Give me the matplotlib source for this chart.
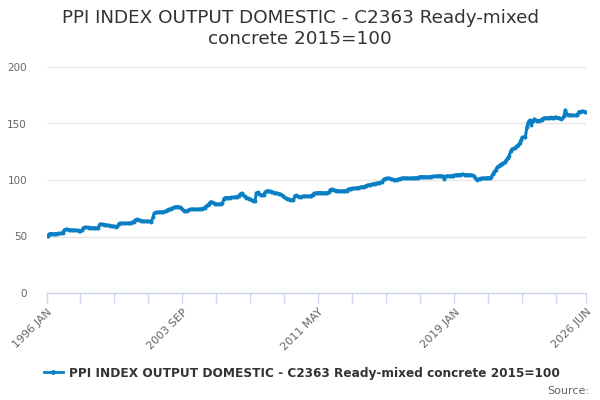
import matplotlib
matplotlib.use("Agg")
import matplotlib.pyplot as plt
from matplotlib.lines import Line2D
import pandas as pd

months = pd.date_range("1996-01-01", "2026-06-01", freq="MS")
month_labels = [d.strftime("%Y %b").upper() for d in months]

v1996 = [50.3, 50.5, 52.4, 52.6, 52.5, 52.4, 52.5, 52.6, 52.7, 52.7, 52.8, 53.0]
v1997 = [55.8, 56.3, 56.2, 56.0, 55.9, 55.8, 55.7, 55.6, 55.5, 55.4, 55.3, 55.1]
v1998 = [55.4, 57.8, 58.2, 58.1, 58.0, 57.9, 57.8, 57.8, 57.7, 57.6, 57.5, 57.6]
v1999 = [60.8, 61.0, 60.8, 60.5, 60.3, 60.1, 59.9, 59.6, 59.4, 59.1, 58.9, 58.8]
v2000 = [59.0, 61.5, 61.7, 61.7, 61.6, 61.7, 61.8, 61.7, 61.8, 62.0, 62.4, 63.2]
v2001 = [64.5, 65.2, 64.8, 64.3, 64.0, 63.8, 63.6, 63.5, 63.4, 63.4, 63.3, 63.2]
v2002 = [67.0, 70.8, 71.3, 71.5, 71.6, 71.8, 71.9, 72.0, 72.2, 72.5, 73.8, 74.2]
v2003 = [74.5, 75.2, 75.8, 76.2, 76.5, 76.4, 76.0, 75.2, 74.0, 73.0, 72.6, 72.4]
v2004 = [73.5, 74.0, 74.2, 74.3, 74.1, 74.0, 74.2, 74.3, 74.4, 74.6, 74.8, 75.5]
v2005 = [77.0, 77.6, 79.2, 80.8, 80.2, 79.5, 79.0, 78.8, 78.7, 78.8, 79.0, 79.5]
v2006 = [83.5, 84.4, 84.5, 84.4, 84.5, 84.6, 84.7, 84.8, 85.0, 85.3, 86.0, 87.5]
v2007 = [88.3, 87.0, 85.5, 84.5, 84.0, 83.6, 83.0, 82.0, 81.5, 81.3, 88.5, 89.0]
v2008 = [87.5, 86.5, 86.6, 87.0, 89.5, 90.3, 90.5, 90.2, 89.8, 89.3, 88.8, 88.4]
v2009 = [88.3, 88.0, 87.6, 86.8, 85.8, 84.8, 84.0, 83.5, 83.0, 82.6, 82.2, 82.0]
v2010 = [86.0, 86.5, 85.5, 85.0, 85.2, 85.5, 85.8, 86.0, 85.8, 85.6, 85.8, 86.2]
v2011 = [87.0, 88.2, 88.5, 88.6, 88.8, 88.9, 88.8, 88.7, 88.6, 88.6, 88.7, 89.0]
v2012 = [91.5, 91.8, 91.5, 91.0, 90.6, 90.4, 90.3, 90.2, 90.3, 90.4, 90.5, 90.6]
v2013 = [91.8, 92.2, 92.4, 92.6, 92.7, 92.8, 93.0, 93.2, 93.5, 93.8, 94.0, 94.2]
v2014 = [95.0, 95.4, 95.7, 96.0, 96.3, 96.6, 96.9, 97.1, 97.3, 97.6, 97.9, 98.3]
v2015 = [100.5, 101.2, 101.5, 101.6, 101.4, 101.0, 100.6, 100.3, 100.2, 100.4, 100.8, 101.2]
v2016 = [101.5, 101.8, 101.9, 101.8, 101.7, 101.6, 101.6, 101.7, 101.8, 101.9, 102.0, 102.2]
v2017 = [102.6, 102.9, 103.0, 103.0, 102.9, 102.9, 102.8, 102.9, 103.0, 103.1, 103.2, 103.3]
v2018 = [103.6, 103.7, 103.8, 103.7, 103.5, 101.0, 103.2, 103.5, 103.6, 103.7, 103.8, 103.9]
v2019 = [104.2, 104.5, 104.6, 104.7, 104.8, 104.9, 104.9, 104.8, 104.8, 104.7, 104.6, 104.5]
v2020 = [104.2, 103.8, 102.2, 100.2, 100.6, 101.2, 101.5, 101.6, 101.7, 101.8, 101.9, 102.0]
v2021 = [102.2, 102.5, 105.5, 107.5, 109.0, 111.5, 112.5, 113.5, 114.5, 115.0, 116.0, 117.5]
v2022 = [119.5, 121.5, 125.5, 127.5, 128.0, 128.5, 130.0, 131.0, 132.5, 135.5, 137.8, 138.0]
v2023 = [138.2, 147.0, 151.0, 153.0, 148.5, 152.0, 154.0, 153.0, 152.5, 152.5, 152.8, 153.5]
v2024 = [154.5, 155.0, 155.2, 155.0, 155.3, 155.4, 155.2, 155.3, 155.5, 155.4, 155.2, 155.0]
v2025 = [154.0, 154.5, 156.5, 162.0, 158.5, 157.8, 157.5, 157.3, 157.2, 157.2, 157.3, 157.5]
v2026 = [160.2, 160.6, 160.8, 160.7, 160.5, 160.3]

values = (v1996 + v1997 + v1998 + v1999 + v2000 + v2001 + v2002 + v2003 + v2004
          + v2005 + v2006 + v2007 + v2008 + v2009 + v2010 + v2011 + v2012 + v2013
          + v2014 + v2015 + v2016 + v2017 + v2018 + v2019 + v2020 + v2021 + v2022
          + v2023 + v2024 + v2025 + v2026)

series_name = "PPI INDEX OUTPUT DOMESTIC - C2363 Ready-mixed concrete 2015=100"
title = "PPI INDEX OUTPUT DOMESTIC - C2363 Ready-mixed\nconcrete 2015=100"
y_ticks = [0, 50, 100, 150, 200]
labelled_ticks = ["1996 JAN", "2003 SEP", "2011 MAY", "2019 JAN", "2026 JUN"]

n = len(values)
xs = list(range(n))

fig = plt.figure(figsize=(6, 4), dpi=100)
ax = fig.add_axes([0.0775, 0.2675, 0.8992, 0.565])

line_color = "#0a7fc4"
ax.plot(xs, values, color=line_color, lw=2.2, marker="o", ms=2.8,
        markeredgewidth=0, label=series_name, zorder=3)

ax.set_xlim(0, n - 1)
ax.set_ylim(0, 200)
ax.set_yticks(y_ticks)
ax.set_yticklabels([str(t) for t in y_ticks], color="#666666", fontsize=7.5)
ax.grid(axis="y", color="#e6e6e6", lw=1)
ax.set_axisbelow(True)

tick_pos = list(range(0, n - 1, 23)) + [n - 1]
ax.set_xticks(tick_pos)
tick_labels = [month_labels[p] if month_labels[p] in labelled_ticks else "" for p in tick_pos]
ax.set_xticklabels(tick_labels, rotation=45, ha="right", va="top",
                   rotation_mode="anchor", color="#666666", fontsize=8)
ax.tick_params(axis="x", length=7, color="#ccd6eb", width=1, pad=3)
ax.tick_params(axis="y", length=0, pad=14)

for s in ["top", "right", "left"]:
    ax.spines[s].set_visible(False)
ax.spines["bottom"].set_color("#ccd6eb")
ax.spines["bottom"].set_linewidth(1)

fig.text(0.5, 0.977, title, ha="center", va="top", fontsize=13.2,
         color="#333333", linespacing=1.22)

handle = Line2D([], [], color=line_color, lw=2, marker="o", ms=3.5,
                markeredgewidth=0)
leg = fig.legend([handle], [series_name], loc="center",
                 bbox_to_anchor=(0.503, 0.067), frameon=False,
                 handlelength=1.6, handletextpad=0.5,
                 prop={"size": 8.7, "weight": "bold"})
for t in leg.get_texts():
    t.set_color("#333333")

fig.text(0.982, 0.022, "Source:", ha="right", va="center", fontsize=8,
         color="#666666")

fig.savefig("out.png", dpi=100)
